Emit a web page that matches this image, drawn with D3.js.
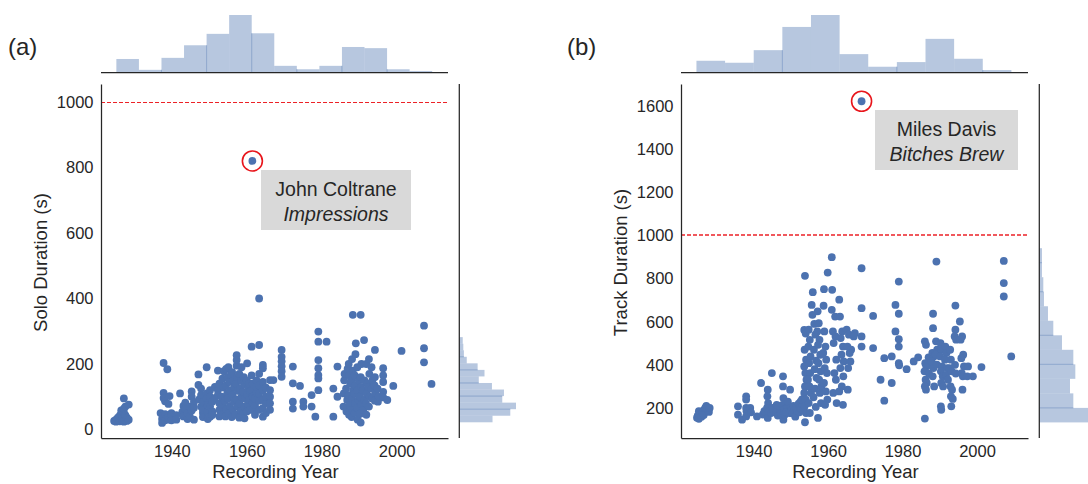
<!DOCTYPE html>
<html>
<head>
<meta charset="utf-8">
<script src="https://cdn.jsdelivr.net/npm/d3@7"></script>
<style>
  body { margin: 0; background: #fff; }
  svg { display: block; }
  text { font-family: "Liberation Sans", Arial, sans-serif; fill: #262626; }
</style>
</head>
<body>
<svg id="chart" width="1088" height="484"></svg>
<script>
// ---- data ----
const yearTicks = [1940, 1960, 1980, 2000];
const soloTicks = [0, 200, 400, 600, 800, 1000];
const trackTicks = [200, 400, 600, 800, 1000, 1200, 1400, 1600];

// panel (a): [recording year, solo duration s]
const soloPoints = [
  [1924.6,26],[1925.1,30],[1925.1,24],[1925.6,28],[1925.6,36],[1926.1,25],[1926.1,34],[1926.1,42],
  [1926.5,31],[1926.5,48],[1926.5,58],[1926.9,27],[1926.9,38],[1927.2,24],[1927.2,52],[1927.2,64],
  [1927.2,95],[1927.6,29],[1927.6,44],[1927.6,70],[1928.0,26],[1928.0,36],[1928.5,30],[1928.5,76],
  [1937.0,50],[1937.4,32],[1937.4,20],[1937.8,203],[1937.8,112],[1937.8,96],[1937.8,42],[1938.2,28],
  [1938.2,47],[1938.2,86],[1938.8,184],[1938.8,35],[1939.1,78],[1939.1,38],[1939.4,102],[1939.4,30],
  [1939.9,50],[1939.9,44],[1939.9,28],
  [1941.2,44],[1941.2,30],[1942.2,110],[1942.8,54],[1943.1,72],[1943.1,40],[1943.6,82],[1943.6,62],
  [1944.2,32],[1944.2,50],[1944.8,70],[1944.8,40],[1945.3,116],[1945.3,100],[1945.3,58],[1945.9,84],
  [1945.9,30],[1945.9,66],
  [1947.1,168],[1947.1,136],[1947.3,92],[1947.8,125],[1947.8,105],[1947.8,70],[1948.3,50],[1948.3,38],
  [1948.5,84],[1948.3,60],[1949.3,190],[1949.3,110],[1949.3,95],[1949.6,75],[1949.6,54],[1949.6,32],
  [1950.2,120],[1950.2,100],[1950.2,70],[1950.2,39],[1950.8,85],[1950.8,55],[1950.8,44],[1951.5,130],
  [1951.5,96],[1952.3,180],[1952.3,120],[1952.3,105],[1952.7,60],[1952.7,80],[1952.7,40],[1952.7,140],
  [1953.4,45],[1953.6,75],[1953.3,100],[1953.8,128],[1953.5,155],[1953.9,178],
  [1954.3,40],[1954.6,62],[1954.2,88],[1954.8,110],[1954.4,135],[1954.9,160],[1954.5,185],
  [1955.2,50],[1955.5,72],[1955.0,95],[1955.6,120],[1955.3,145],[1955.8,168],[1955.1,190],
  [1956.0,38],[1956.3,60],[1956.6,85],[1956.2,105],[1956.7,130],[1956.4,150],[1956.1,175],
  [1957.0,45],[1957.5,70],[1957.2,92],[1957.6,118],[1957.1,140],[1957.4,160],[1957.3,195],
  [1957.3,212],[1957.3,227],
  [1958.0,36],[1958.4,58],[1958.1,80],[1958.6,100],[1958.2,125],[1958.5,148],[1958.0,170],[1958.6,190],
  [1959.0,48],[1959.3,70],[1959.6,95],[1959.1,115],[1959.5,138],[1959.2,160],[1959.4,34],
  [1960.0,55],[1960.3,78],[1960.1,105],[1960.4,128],[1960.0,150],[1960.1,202],
  [1960.8,60],[1960.7,90],[1960.9,118],[1960.6,140],
  [1961.3,253],[1961.3,165],[1961.3,120],[1961.6,60],[1961.6,82],[1961.6,100],[1961.6,140],
  [1962.2,45],[1962.2,75],[1962.2,95],[1962.6,112],[1962.6,130],[1962.6,150],
  [1963.3,258],[1963.3,400],[1963.3,88],[1963.3,60],[1963.3,110],[1963.3,135],[1963.3,170],
  [1964.3,197],[1964.3,187],[1964.3,39],[1964.3,65],[1964.3,92],[1964.3,120],[1964.3,145],
  [1965.1,80],[1965.1,100],[1965.1,128],[1965.1,50],
  [1966.2,151],[1966.2,120],[1966.2,100],[1966.2,80],[1966.2,60],[1967.1,151],
  [1969.3,243],[1969.3,222],[1969.3,208],[1969.3,193],[1969.3,178],[1969.3,161],
  [1972.3,192],[1972.3,141],[1972.3,85],[1972.3,64],[1974.2,133],[1975.1,85],[1975.1,70],
  [1977.3,105],[1977.3,70],[1978.3,39],
  [1979.1,299],[1979.1,268],[1979.1,212],[1979.1,187],[1979.1,166],[1979.1,156],[1979.1,120],
  [1981.3,268],[1983.1,125],[1983.1,39],[1984.2,192],[1984.2,100],
  [1985.8,70],[1985.9,110],[1986.0,150],[1986.1,170],
  [1986.6,55],[1986.8,90],[1986.5,125],[1986.9,185],
  [1987.3,45],[1987.5,75],[1987.2,105],[1987.6,140],[1987.4,165],[1987.2,200],
  [1988.0,38],[1988.2,60],[1988.1,95],[1988.4,120],[1988.0,150],[1988.3,180],[1988.1,215],[1988.3,350],
  [1988.8,50],[1988.9,80],[1988.7,110],[1989.0,135],[1988.8,165],[1989.1,263],[1989.0,230],
  [1989.6,30],[1989.5,65],[1989.8,90],[1989.6,120],[1989.9,150],[1989.5,190],
  [1990.4,21],[1990.3,48],[1990.6,75],[1990.2,100],[1990.5,130],[1990.4,160],[1990.4,350],[1990.6,200],
  [1991.1,60],[1991.3,90],[1991.0,120],[1991.4,150],[1991.3,273],
  [1991.9,45],[1991.8,80],[1992.0,110],[1992.2,140],[1991.9,200],
  [1992.6,70],[1992.8,100],[1992.5,130],[1992.7,170],[1992.6,215],
  [1993.4,95],[1993.2,125],[1993.5,150],[1993.3,190],
  [1994.2,88],[1994.3,112],[1994.1,135],[1994.2,160],[1994.2,243],
  [1995.0,85],[1995.2,100],[1994.9,125],
  [1996.4,187],[1996.4,165],[1996.4,145],[1996.4,115],[1996.4,98],[1997.5,90],[1999.1,133],
  [2001.3,240],[2007.3,317],[2007.3,248],[2007.3,205],[2009.3,139],
  [1961.5,820]
];

// panel (b): [recording year, track duration s]
const trackPoints = [
  [1924.8,155],[1925.0,165],[1925.3,150],[1925.3,185],[1925.6,172],[1926.0,160],[1926.3,178],
  [1926.6,190],[1926.6,168],[1927.0,200],[1927.3,210],[1927.6,195],[1928.0,182],[1928.2,200],
  [1935.8,208],[1935.8,169],[1936.9,146],[1938.0,254],[1938.0,239],[1938.0,200],[1938.1,185],
  [1938.0,161],[1939.1,200],[1939.3,180],[1940.9,161],[1942.0,316],[1942.5,170],[1942.9,185],
  [1943.8,285],[1943.7,254],[1943.9,223],[1943.6,200],[1943.8,154],[1944.1,185],[1944.9,362],
  [1945.1,200],[1944.7,177],[1945.3,190],[1946.3,200],[1946.0,180],[1946.5,165],[1946.2,215],
  [1947.1,190],[1947.3,175],[1946.9,210],[1947.9,347],[1947.9,300],[1948.0,246],[1947.8,215],
  [1948.2,192],[1948.0,146],[1948.4,170],[1949.0,200],[1948.7,180],[1949.2,230],[1949.8,285],
  [1950.0,200],[1949.6,177],[1950.2,190],[1950.7,210],[1951.0,190],[1950.5,175],[1951.2,160],
  [1951.5,200],[1951.8,185],[1952.1,220],[1952.5,205],[1952.3,180],[1952.8,195],[1952.6,230],
  [1953.2,215],[1953.0,240],[1953.3,190],
  [1953.8,813],[1953.6,562],[1954.0,545],[1953.7,470],[1954.1,424],[1953.6,393],[1953.9,362],
  [1954.2,331],[1953.8,300],[1953.6,270],[1954.0,239],[1953.7,208],[1954.1,177],[1953.8,134],
  [1954.8,563],[1955.1,516],[1954.7,485],[1955.3,439],[1954.9,408],[1955.2,362],[1954.6,331],
  [1955.0,300],[1955.4,270],[1954.8,223],[1955.1,177],[1955.9,737],[1955.6,678],[1955.8,632],
  [1956.3,590],[1956.6,540],[1956.2,470],[1956.8,420],[1956.4,380],[1956.9,340],[1956.5,290],
  [1956.1,250],[1956.7,205],
  [1957.2,648],[1957.5,593],[1957.1,555],[1957.7,516],[1957.3,493],[1957.9,447],[1957.4,408],
  [1958.0,370],[1957.6,331],[1958.2,300],[1957.8,270],[1958.1,223],[1957.3,154],
  [1958.9,751],[1958.8,674],[1959.0,555],[1959.3,485],[1958.7,455],[1959.5,424],[1959.1,385],
  [1959.7,362],[1958.9,316],[1959.4,277],[1959.8,239],[1959.2,215],[1959.9,828],
  [1961.0,899],[1961.1,748],[1961.0,655],[1961.9,624],[1961.3,555],[1962.0,532],[1961.5,501],
  [1962.2,424],[1961.7,362],[1962.1,331],[1961.4,270],[1962.3,223],
  [1963.0,702],[1963.2,624],[1963.8,555],[1963.4,524],[1964.0,485],[1963.6,447],[1964.2,416],
  [1963.3,385],[1964.1,347],[1963.7,300],[1963.0,277],[1964.0,215],
  [1965.0,563],[1965.6,540],[1965.2,485],[1966.2,470],[1965.8,455],[1966.0,416],[1965.4,385],
  [1965.3,285],[1967.2,547],[1966.9,532],[1969.0,848],[1969.0,663],[1969.0,532],[1969.0,485],
  [1972.1,627],[1972.1,478],[1974.1,331],[1975.1,234],[1975.1,431],[1977.1,439],[1977.1,316],
  [1978.1,678],[1978.1,555],[1979.0,786],[1979.0,637],[1979.0,519],[1979.0,485],[1979.0,408],
  [1979.1,398],[1981.1,380],[1983.0,416],[1984.2,435],
  [1986.0,509],[1986.3,493],[1986.1,408],[1986.4,393],[1985.9,370],[1986.2,331],[1986.5,316],
  [1986.0,300],[1986.3,285],[1986.0,151],[1987.0,435],[1987.3,400],[1987.1,360],
  [1988.2,637],[1988.2,570],[1988.0,455],[1988.4,439],[1987.8,416],[1988.3,385],[1988.1,347],
  [1988.5,300],[1989.1,879],[1989.0,509],[1989.3,470],[1988.9,447],[1989.2,401],
  [1990.2,501],[1990.5,470],[1990.1,439],[1990.6,393],[1990.3,370],[1990.8,347],[1990.4,316],
  [1990.9,300],[1990.3,208],[1990.4,192],[1991.5,485],[1991.8,455],[1991.4,424],[1992.0,385],
  [1991.7,354],[1992.2,331],[1992.8,470],[1993.0,424],[1992.6,385],[1993.2,370],[1992.9,300],
  [1993.3,285],[1993.0,254],[1993.5,242],[1993.1,208],
  [1994.2,675],[1994.2,563],[1994.0,532],[1994.4,517],[1994.1,400],[1994.3,360],
  [1995.4,601],[1996.0,532],[1995.6,517],[1996.3,447],[1995.8,431],[1996.5,393],[1995.9,362],
  [1996.2,347],[1996.1,285],[1997.6,393],[1997.4,347],[1998.9,347],[2001.2,390],
  [2007.2,882],[2007.2,779],[2007.2,717],[2009.2,439],
  [1969.0,1622]
];

// marginal histograms: counts per bin
const soloYearCounts  = [24, 5, 26, 48, 68, 101, 69, 12, 6, 12, 45, 43, 6, 3];
const soloDurCounts   = [58, 89, 99, 75, 78, 57, 34, 44, 32, 13, 8, 7, 6];
const trackYearCounts = [18, 15, 34, 69, 87, 28, 9, 16, 51, 21, 4];
const trackDurCounts  = [73, 51, 46, 54, 51, 34, 21, 13, 7, 6, 4, 4];

// ---- drawing ----
const svg = d3.select("#chart");
const BLUE = "#4c72b0", INK = "#262626", RED = "#ec2227";

function panel(o) {
  const g = svg.append("g");
  const x = d3.scaleLinear().domain(o.xDomain).range([o.left, o.right]);
  const y = d3.scaleLinear().domain(o.yDomain).range([438, 84]);

  // top marginal histogram
  const base = 72.7;
  const hy = d3.scaleLinear().domain([0, d3.max(o.topCounts)]).range([base, 15]);
  const top = g.append("g");
  top.selectAll("rect").data(o.topCounts).join("rect")
    .attr("x", (d, i) => x(o.topStart + i * o.topW))
    .attr("width", (d, i) => x(o.topStart + (i + 1) * o.topW) - x(o.topStart + i * o.topW))
    .attr("y", d => hy(d)).attr("height", d => base - hy(d))
    .attr("fill", BLUE).attr("fill-opacity", 0.4);
  top.selectAll("line.seam").data(o.topSeams).join("line")
    .attr("x1", k => x(o.topStart + k * o.topW)).attr("x2", k => x(o.topStart + k * o.topW))
    .attr("y1", base).attr("y2", k => hy(Math.min(o.topCounts[k - 1], o.topCounts[k])))
    .attr("stroke", BLUE).attr("stroke-opacity", 0.4);
  top.append("line").attr("x1", o.left).attr("x2", o.right).attr("y1", base).attr("y2", base)
    .attr("stroke", INK).attr("stroke-width", 1.25);

  // right marginal histogram
  const hx = d3.scaleLinear().domain([0, d3.max(o.sideCounts)]).range([o.sideX, o.sideX + o.sideMax]);
  const side = g.append("g");
  side.selectAll("rect").data(o.sideCounts).join("rect")
    .attr("y", (d, i) => y(o.sideStart + (i + 1) * o.sideW))
    .attr("height", (d, i) => y(o.sideStart + i * o.sideW) - y(o.sideStart + (i + 1) * o.sideW))
    .attr("x", o.sideX).attr("width", d => hx(d) - o.sideX)
    .attr("fill", BLUE).attr("fill-opacity", 0.4);
  side.selectAll("line.seam").data(o.sideSeams).join("line")
    .attr("y1", k => y(o.sideStart + k * o.sideW)).attr("y2", k => y(o.sideStart + k * o.sideW))
    .attr("x1", o.sideX).attr("x2", k => hx(Math.min(o.sideCounts[k - 1], o.sideCounts[k])))
    .attr("stroke", BLUE).attr("stroke-opacity", 0.4);
  side.append("line").attr("x1", o.sideX).attr("x2", o.sideX).attr("y1", 84).attr("y2", 438)
    .attr("stroke", INK).attr("stroke-width", 1.25);

  // threshold line at 1000 s
  const ly = Math.round(y(1000)) + o.lineShift;
  g.append("line").attr("x1", o.left).attr("x2", o.right).attr("y1", ly).attr("y2", ly)
    .attr("stroke", RED).attr("stroke-width", o.lineW).attr("stroke-dasharray", "4,2");

  // scatter
  g.append("g").selectAll("circle").data(o.points).join("circle")
    .attr("cx", d => x(d[0])).attr("cy", d => y(d[1])).attr("r", 3.9)
    .attr("fill", BLUE);

  // axes
  const ax = g.append("g").attr("transform", "translate(0,438)")
    .call(d3.axisBottom(x).tickValues(yearTicks).tickFormat(d3.format("d")).tickSize(0).tickPadding(7));
  const ay = g.append("g").attr("transform", `translate(${o.left},0)`)
    .call(d3.axisLeft(y).tickValues(o.yTicks).tickFormat(d3.format("d")).tickSize(0).tickPadding(7.5));
  [ax, ay].forEach(a => {
    a.select(".domain").attr("stroke", INK).attr("stroke-width", 1.25);
    a.selectAll("text").attr("font-size", 16.5).attr("fill", INK)
      .style("font-family", '"Liberation Sans", Arial, sans-serif');
  });

  g.append("text").attr("x", (o.left + o.right) / 2 + 1).attr("y", 478)
    .attr("text-anchor", "middle").attr("font-size", 18.5).text("Recording Year");
  g.append("text").attr("transform", `translate(${o.yLabelX},262.5) rotate(-90)`)
    .attr("text-anchor", "middle").attr("font-size", 18.5).text(o.yLabel);
  g.append("text").attr("x", o.tagX).attr("y", 55).attr("font-size", 24).text(o.tag);

  // outlier annotation
  g.append("circle").attr("cx", x(o.outlier[0])).attr("cy", y(o.outlier[1])).attr("r", 10)
    .attr("fill", "none").attr("stroke", "#e8151b").attr("stroke-width", 1.6);
  const b = o.box;
  g.append("rect").attr("x", b.x).attr("y", b.y).attr("width", b.w).attr("height", b.h).attr("fill", "#d9d9d9");
  g.append("text").attr("x", b.x + b.w / 2).attr("y", b.y + 25.5).attr("text-anchor", "middle")
    .attr("font-size", 19.5).attr("fill", "#111").text(o.note[0]);
  g.append("text").attr("x", b.x + b.w / 2).attr("y", b.y + 51).attr("text-anchor", "middle")
    .attr("font-size", 19.5).attr("font-style", "italic").attr("fill", "#111").text(o.note[1]);
}

panel({
  points: soloPoints, left: 101, right: 448, xDomain: [1921.1, 2013.7], yDomain: [-26, 1055],
  yTicks: soloTicks, yLabel: "Solo Duration (s)", yLabelX: 47, tag: "(a)", tagX: 8,
  topCounts: soloYearCounts, topStart: 1925.2, topW: 6.02, topSeams: [2, 4, 6, 8, 10, 12],
  sideCounts: soloDurCounts, sideStart: 22, sideW: 20, sideSeams: [2, 4, 6, 8, 10],
  sideX: 459.3, sideMax: 56.7, lineShift: 0.5, lineW: 1,
  outlier: [1961.5, 820], note: ["John Coltrane", "Impressions"],
  box: { x: 261, y: 170, w: 150, h: 60 }
});

panel({
  points: trackPoints, left: 681, right: 1028, xDomain: [1920.5, 2013.7], yDomain: [61, 1702],
  yTicks: trackTicks, yLabel: "Track Duration (s)", yLabelX: 627, tag: "(b)", tagX: 567,
  topCounts: trackYearCounts, topStart: 1924.65, topW: 7.69, topSeams: [3, 7, 10],
  sideCounts: trackDurCounts, sideStart: 133.3, sideW: 67.3, sideSeams: [1, 4, 6, 9, 11],
  sideX: 1039.3, sideMax: 48.7, lineShift: 0, lineW: 1.5,
  outlier: [1969.0, 1622], note: ["Miles Davis", "Bitches Brew"],
  box: { x: 875, y: 110, w: 143, h: 60 }
});
</script>
</body>
</html>
